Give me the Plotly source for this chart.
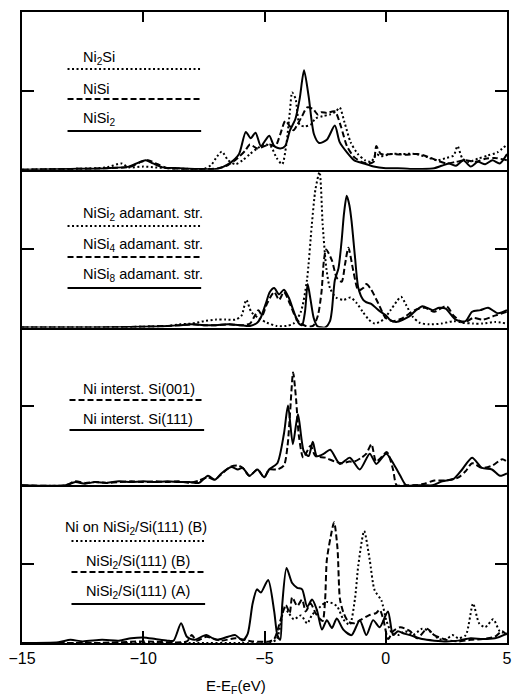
import plotly.graph_objects as go
from plotly.subplots import make_subplots

# ---------------- data: Ni d-projected densities of states (arb. units) ----------------
# Panel 1: bulk silicides
ni2si_x = [-15, -13, -11.5, -10.9, -10.6, -10.0, -9.5, -9.0, -8.0, -7.5, -7.2, -6.95, -6.76, -6.5, -6.2, -5.9,
           -5.6, -5.3, -5.0, -4.75, -4.5, -4.27, -4.1, -3.95, -3.86, -3.72, -3.55, -3.35, -3.1, -2.9, -2.6,
           -2.3, -2.05, -1.9, -1.7, -1.45, -1.15, -0.85, -0.6, -0.39, -0.2, 0.2, 0.7, 1.2, 1.7, 2.1, 2.5,
           2.8, 2.96, 3.15, 3.4, 3.8, 4.2, 4.6, 5.0]
ni2si_y = [0.0, 0.01, 0.03, 0.08, 0.03, 0.04, 0.03, 0.02, 0.01, 0.01, 0.06, 0.17, 0.23, 0.12, 0.07, 0.12,
           0.2, 0.27, 0.32, 0.3, 0.15, 0.07, 0.32, 0.75, 0.98, 0.9, 0.57, 0.55, 0.57, 0.65, 0.68,
           0.7, 0.74, 0.79, 0.6, 0.35, 0.2, 0.12, 0.1, 0.2, 0.17, 0.2, 0.2, 0.2, 0.16, 0.12, 0.15,
           0.18, 0.3, 0.15, 0.1, 0.14, 0.18, 0.22, 0.32]

nisi_x = [-15, -13, -11.5, -10.5, -10.1, -9.8, -9.4, -9.0, -8.0, -7.2, -6.9, -6.5, -6.1, -5.8, -5.6, -5.3,
          -5.0, -4.8, -4.55, -4.35, -4.14, -3.95, -3.8, -3.65, -3.45, -3.24, -3.0, -2.8, -2.65, -2.43,
          -2.1, -1.85, -1.6, -1.3, -1.0, -0.7, -0.5, -0.39, -0.2, 0.3, 0.8, 1.3, 1.7, 2.1, 2.5, 2.9, 3.3,
          3.7, 4.1, 4.5, 5.0]
nisi_y = [0.0, 0.01, 0.02, 0.04, 0.1, 0.12, 0.07, 0.02, 0.01, 0.01, 0.02, 0.06, 0.15, 0.24, 0.32, 0.27,
          0.3, 0.32, 0.3, 0.45, 0.62, 0.55, 0.5, 0.57, 0.68, 0.79, 0.77, 0.7, 0.73, 0.72,
          0.74, 0.55, 0.3, 0.16, 0.1, 0.08, 0.1, 0.3, 0.2, 0.2, 0.19, 0.2, 0.17, 0.12, 0.08, 0.1, 0.12,
          0.1, 0.14, 0.15, 0.12]

nisi2_x = [-15, -13, -11.5, -10.6, -10.2, -9.9, -9.6, -9.2, -8.5, -7.8, -7.0, -6.75, -6.4, -6.05, -5.77,
           -5.57, -5.37, -5.15, -4.95, -4.8, -4.6, -4.35, -4.15, -3.95, -3.73, -3.55, -3.37, -3.18, -2.96,
           -2.75, -2.43, -2.1, -1.9, -1.6, -1.3, -0.9, -0.5, 0.0, 0.5, 1.0, 1.5, 2.0, 2.3, 2.6, 2.9, 3.2,
           3.5, 3.8, 4.1, 4.4, 4.7, 5.0]
nisi2_y = [0.0, 0.01, 0.02, 0.04, 0.09, 0.12, 0.08, 0.03, 0.02, 0.01, 0.01, 0.03, 0.09, 0.2, 0.48,
           0.4, 0.47, 0.3, 0.38, 0.43, 0.3, 0.27, 0.3, 0.5, 0.64, 0.9, 1.26, 0.93, 0.45,
           0.34, 0.38, 0.56, 0.35, 0.22, 0.12, 0.08, 0.04, 0.02, 0.02, 0.01, 0.01, 0.02, 0.05, 0.08, 0.05, 0.12,
           0.04, 0.1, 0.07, 0.12, 0.08, 0.2]

# Panel 2: Ni in adamantine structures
ad2_x = [-15, -12, -10, -9.0, -8.5, -8.0, -7.5, -7.0, -6.6, -6.2, -5.95, -5.75, -5.55, -5.25, -4.9, -4.5,
         -4.1, -3.8, -3.5, -3.25, -3.05, -2.9, -2.73, -2.6, -2.45, -2.3, -2.05, -1.75, -1.45, -1.2, -0.95,
         -0.7, -0.45, -0.1, 0.2, 0.45, 0.63, 0.85, 1.1, 1.4, 1.8, 2.3, 2.8, 3.2, 3.6, 4.0, 4.5, 5.0]
ad2_y = [0.0, 0.0, 0.01, 0.02, 0.04, 0.05, 0.08, 0.1, 0.1, 0.1, 0.15, 0.35, 0.2, 0.12, 0.06, 0.02,
         0.02, 0.05, 0.2, 0.6, 1.3, 1.75, 1.97, 1.3, 0.75, 0.5, 0.38, 0.35, 0.38, 0.31, 0.2,
         0.1, 0.05, 0.1, 0.22, 0.33, 0.39, 0.28, 0.14, 0.06, 0.04, 0.05, 0.08, 0.06, 0.05, 0.05, 0.07, 0.05]

ad4_x = [-15, -12, -10, -9.0, -8.5, -8.0, -7.5, -7.0, -6.5, -6.0, -5.6, -5.4, -5.25, -5.1, -4.9, -4.6,
         -4.4, -4.2, -3.95, -3.75, -3.55, -3.3, -3.0, -2.8, -2.65, -2.55, -2.46, -2.22, -2.02, -1.82,
         -1.68, -1.54, -1.34, -1.13, -0.93, -0.8, -0.6, -0.3, 0.0, 0.3, 0.7, 1.2, 1.6, 2.0, 2.5, 2.8,
         3.2, 3.6, 4.0, 4.5, 5.0]
ad4_y = [0.0, 0.0, 0.01, 0.02, 0.03, 0.04, 0.03, 0.03, 0.04, 0.03, 0.05, 0.15, 0.22, 0.15, 0.3, 0.45,
         0.35, 0.45, 0.3, 0.15, 0.06, 0.02, 0.02, 0.15, 0.45, 0.85, 0.99, 0.85, 0.63, 0.58,
         0.8, 1.01, 0.72, 0.47, 0.5, 0.55, 0.48, 0.3, 0.12, 0.08, 0.12, 0.22, 0.25, 0.2, 0.27, 0.15,
         0.06, 0.12, 0.1, 0.15, 0.2]

ad8_x = [-15, -12, -10, -9.0, -8.5, -8.0, -7.5, -7.0, -6.5, -6.0, -5.6, -5.3, -5.16, -4.95, -4.78, -4.6,
         -4.4, -4.2, -4.0, -3.79, -3.58, -3.45, -3.33, -3.22, -3.1, -2.97, -2.83, -2.5, -2.3, -2.22,
         -2.1, -1.95, -1.82, -1.72, -1.61, -1.5, -1.41, -1.27, -1.13, -0.93, -0.8, -0.6, -0.3, 0.02,
         0.16, 0.43, 0.97, 1.25, 1.52, 1.93, 2.2, 2.47, 2.88, 3.29, 3.56, 3.9, 4.22, 4.63, 5.0]
ad8_y = [0.0, 0.0, 0.01, 0.02, 0.03, 0.04, 0.03, 0.03, 0.04, 0.03, 0.02, 0.06, 0.12, 0.3, 0.45, 0.5,
         0.42, 0.48, 0.38, 0.2, 0.05, 0.03, 0.2, 0.55, 0.35, 0.12, 0.02, 0.0, 0.08, 0.22,
         0.6, 0.75, 1.1, 1.45, 1.67, 1.55, 1.35, 0.9, 0.5, 0.35, 0.32, 0.3, 0.22, 0.15,
         0.1, 0.07, 0.14, 0.22, 0.27, 0.22, 0.25, 0.24, 0.1, 0.08, 0.2, 0.22, 0.25, 0.18, 0.22]

# Panel 3: interstitial Ni in Si
i001_x = [-15, -13.2, -12.8, -12.4, -12.0, -11.5, -11.0, -10.5, -10.0, -9.5, -9.0, -8.55, -8.1, -7.7,
          -7.33, -7.05, -6.78, -6.37, -6.1, -5.9, -5.62, -5.29, -5.01, -4.81, -4.47, -4.2, -4.05, -3.95,
          -3.82, -3.7, -3.58, -3.4, -3.1, -2.9, -2.5, -2.1, -1.8, -1.5, -1.3, -1.0, -0.8, -0.59, -0.4,
          -0.2, 0.05, 0.3, 0.45, 0.8, 1.2, 1.6, 2.0, 2.5, 3.0, 3.3, 3.56, 3.97, 4.4, 4.8, 5.0]
i001_y = [0.0, 0.0, 0.05, 0.03, 0.04, 0.03, 0.04, 0.05, 0.04, 0.05, 0.04, 0.05, 0.03, 0.06,
          0.1, 0.07, 0.14, 0.24, 0.25, 0.22, 0.12, 0.2, 0.1, 0.2, 0.2, 0.25, 0.5, 0.9,
          1.43, 1.1, 0.62, 0.35, 0.5, 0.37, 0.35, 0.3, 0.28, 0.3, 0.3, 0.35, 0.4, 0.52, 0.3,
          0.35, 0.42, 0.2, 0.0, 0.0, 0.0, 0.02, 0.06, 0.06, 0.1, 0.18, 0.28, 0.22, 0.25, 0.33, 0.3]

i111_x = [-15, -13.2, -12.8, -12.4, -12.0, -11.5, -11.0, -10.5, -10.0, -9.5, -9.0, -8.55, -8.1, -7.7,
          -7.33, -7.05, -6.78, -6.37, -6.1, -5.9, -5.62, -5.29, -5.01, -4.81, -4.47, -4.2, -4.03, -3.83,
          -3.62, -3.38, -3.18, -3.01, -2.84, -2.55, -2.29, -1.89, -1.48, -1.07, -0.66, -0.39, 0.02, 0.36,
          0.6, 0.84, 1.2, 1.6, 1.93, 2.33, 2.8, 3.15, 3.56, 3.97, 4.38, 4.71, 5.0]
i111_y = [0.0, 0.0, 0.04, 0.02, 0.04, 0.03, 0.05, 0.04, 0.05, 0.04, 0.05, 0.04, 0.04, 0.03,
          0.12, 0.07, 0.15, 0.23, 0.2, 0.22, 0.12, 0.2, 0.1, 0.2, 0.28, 0.65, 1.01, 0.52,
          0.9, 0.43, 0.37, 0.55, 0.37, 0.4, 0.45, 0.27, 0.35, 0.2, 0.4, 0.27, 0.4, 0.25,
          0.12, 0.0, 0.0, 0.0, 0.0, 0.05, 0.08, 0.2, 0.35, 0.22, 0.2, 0.12, 0.15]

# Panel 4: NiSi2/Si(111) interfaces
onb_x = [-15, -12, -10, -8.0, -6.0, -4.8, -4.5, -4.3, -4.2, -4.0, -3.79, -3.5, -3.24, -3.05, -2.84,
         -2.43, -2.02, -1.75, -1.49, -1.27, -1.13, -0.89, -0.66, -0.46, -0.18, 0.02, 0.23, 0.5, 0.8,
         1.1, 1.5, 1.8, 2.2, 2.5, 2.75, 3.0, 3.3, 3.6, 3.85, 4.1, 4.43, 4.7, 5.0]
onb_y = [0.0, 0.0, 0.0, 0.0, 0.0, 0.0, 0.05, 0.3, 0.45, 0.38, 0.3, 0.35, 0.25, 0.35, 0.42,
         0.52, 0.47, 0.3, 0.23, 0.56, 0.99, 1.42, 1.05, 0.67, 0.54, 0.29, 0.14, 0.1, 0.15,
         0.1, 0.18, 0.15, 0.05, 0.05, 0.1, 0.06, 0.1, 0.5, 0.25, 0.2, 0.3, 0.15, 0.12]

nsb_x = [-15, -12, -10, -8.2, -8.0, -7.8, -7.4, -6.8, -6.2, -5.5, -4.8, -4.6, -4.33, -4.12, -3.96,
         -3.86, -3.65, -3.45, -3.3, -3.1, -2.9, -2.7, -2.6, -2.5, -2.43, -2.27, -2.13, -1.99, -1.89,
         -1.75, -1.54, -1.3, -1.0, -0.7, -0.4, -0.25, -0.1, 0.1, 0.3, 0.6, 1.0, 1.3, 1.7, 2.0, 2.5, 3.0,
         3.5, 4.0, 4.5, 4.8, 5.0]
nsb_y = [0.0, 0.0, 0.02, 0.02, 0.1, 0.03, 0.08, 0.03, 0.06, 0.02, 0.02, 0.05, 0.3, 0.48, 0.38,
         0.58, 0.47, 0.55, 0.4, 0.5, 0.38, 0.3, 0.28, 0.55, 1.05, 1.35, 1.53, 1.2, 0.56,
         0.39, 0.27, 0.25, 0.3, 0.35, 0.38, 0.42, 0.3, 0.05, 0.15, 0.2, 0.15, 0.06, 0.18, 0.1, 0.04, 0.02,
         0.04, 0.05, 0.08, 0.15, 0.1]

nsa_x = [-15, -13.5, -13.0, -12.5, -11.7, -11.0, -10.5, -10.0, -9.5, -9.0, -8.75, -8.44, -8.2, -7.9,
         -7.4, -7.0, -6.5, -6.2, -5.9, -5.69, -5.49, -5.31, -5.15, -4.85, -4.6, -4.47, -4.35, -4.27,
         -4.09, -3.86, -3.65, -3.45, -3.24, -3.04, -2.84, -2.63, -2.43, -2.22, -2.02, -1.75, -1.41, -1.07,
         -0.8, -0.52, -0.25, 0.09, 0.3, 0.5, 0.75, 1.0, 1.5, 2.0, 2.5, 3.0, 3.5, 4.0, 4.5, 5.0]
nsa_y = [0.0, 0.01, 0.04, 0.02, 0.04, 0.03, 0.06, 0.07, 0.05, 0.03, 0.03, 0.25, 0.08, 0.04,
         0.1, 0.04, 0.08, 0.1, 0.03, 0.12, 0.5, 0.68, 0.64, 0.8, 0.4, 0.1, 0.04, 0.48,
         0.95, 0.76, 0.7, 0.68, 0.46, 0.55, 0.42, 0.17, 0.29, 0.19, 0.31, 0.17, 0.1, 0.29,
         0.1, 0.29, 0.2, 0.4, 0.1, 0.15, 0.12, 0.1, 0.05, 0.03, 0.02, 0.03, 0.06, 0.05, 0.06, 0.12]

x_ticks = [-15, -10, -5, 0, 5]

# Each panel: list of (label, x, y, line style)
DOT, DASH, SOLID = "2px,2.5px", "6px,3px", "solid"
panels = [
    [("Ni<sub>2</sub>Si", ni2si_x, ni2si_y, DOT),
     ("NiSi", nisi_x, nisi_y, DASH),
     ("NiSi<sub>2</sub>", nisi2_x, nisi2_y, SOLID)],
    [("NiSi<sub>2</sub> adamant. str.", ad2_x, ad2_y, DOT),
     ("NiSi<sub>4</sub> adamant. str.", ad4_x, ad4_y, DASH),
     ("NiSi<sub>8</sub> adamant. str.", ad8_x, ad8_y, SOLID)],
    [("Ni interst. Si(001)", i001_x, i001_y, DASH),
     ("Ni interst. Si(111)", i111_x, i111_y, SOLID)],
    [("Ni on NiSi<sub>2</sub>/Si(111) (B)", onb_x, onb_y, DOT),
     ("NiSi<sub>2</sub>/Si(111) (B)", nsb_x, nsb_y, DASH),
     ("NiSi<sub>2</sub>/Si(111) (A)", nsa_x, nsa_y, SOLID)],
]

# ---------------- layout geometry (pixels in a 518x700 page) ----------------
W, H = 518, 700
L, R, T, B = 22, 512, 12, 643


def px(xp):
    return (xp - L) / (R - L)


def py(yp):
    return (B - yp) / (B - T)


# legend entry placement per panel: (text left, text centre y, sample x0, x1, sample y)
legend_pos = [
    [(82, 58, 68, 203, 69), (82, 89, 68, 203, 99), (82, 119, 68, 203, 131)],
    [(82, 214, 68, 203, 226), (82, 245, 68, 203, 257), (82, 275, 68, 203, 288)],
    [(82, 389, 70, 206, 400), (82, 419, 70, 206, 430)],
    [(63, 528, 72, 207, 541), (85, 562, 72, 207, 572), (85, 592, 72, 207, 604)],
]

FONT = "Liberation Sans, Arial, Helvetica, sans-serif"
LW = 2.0

fig = make_subplots(rows=4, cols=1, shared_xaxes=True, vertical_spacing=0)

annotations = []
shapes = []
for r, series in enumerate(panels, start=1):
    for (label, xs, ys, dash), (tx, ty, lx0, lx1, ly) in zip(series, legend_pos[r - 1]):
        fig.add_trace(go.Scatter(x=xs, y=ys, mode="lines", name=label, showlegend=False,
                                 line=dict(color="black", width=LW, dash=dash,
                                           shape="spline", smoothing=0.7)),
                      row=r, col=1)
        annotations.append(dict(text=label, x=px(tx), y=py(ty), xref="paper", yref="paper",
                                xanchor="left", yanchor="middle", showarrow=False,
                                font=dict(family=FONT, size=14.5, color="black")))
        shapes.append(dict(type="line", xref="paper", yref="paper",
                           x0=px(lx0), x1=px(lx1), y0=py(ly), y1=py(ly),
                           line=dict(color="black", width=LW, dash=dash)))

# axis title, kept fully inside the page
annotations.append(dict(text="E-E<sub>F</sub>(eV)", x=px(238), y=py(698), xref="paper", yref="paper",
                        xanchor="center", yanchor="bottom", showarrow=False,
                        font=dict(family=FONT, size=15, color="black")))

axis_common = dict(showgrid=False, zeroline=False, showline=True, linecolor="black", linewidth=1.8)
for r in range(1, 5):
    fig.update_yaxes(range=[0, 2], tickvals=[1], ticks="inside", ticklen=12, tickcolor="black",
                     tickwidth=1.5, showticklabels=False, mirror="ticks", row=r, col=1, **axis_common)
    fig.update_xaxes(range=[-15, 5], row=r, col=1, **axis_common)

# top border with inward ticks
fig.update_xaxes(side="top", mirror=True, ticks="inside", ticklen=10, tickwidth=1.5, tickcolor="black",
                 tickvals=[-10, -5, 0], showticklabels=False, row=1, col=1)
fig.update_xaxes(ticks="", showticklabels=False, row=2, col=1)
fig.update_xaxes(ticks="", showticklabels=False, row=3, col=1)
fig.update_xaxes(ticks="inside", ticklen=12, tickwidth=1.5, tickcolor="black", tickvals=x_ticks,
                 showticklabels=True, tickfont=dict(family=FONT, size=16, color="black"), row=4, col=1)

fig.update_layout(width=W, height=H, margin=dict(l=L, r=W - R, t=T, b=H - B),
                  paper_bgcolor="white", plot_bgcolor="white",
                  annotations=annotations, shapes=shapes, showlegend=False)

fig.write_html("out.html")
